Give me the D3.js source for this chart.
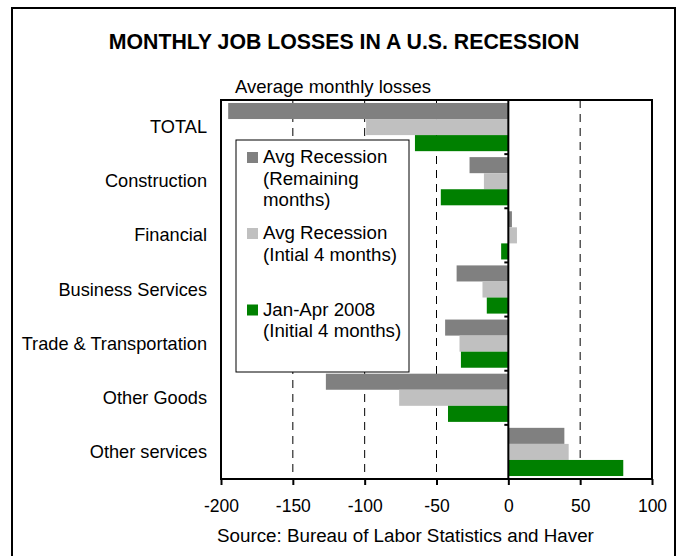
<!DOCTYPE html>
<html>
<head>
<meta charset="utf-8">
<script src="https://cdn.jsdelivr.net/npm/d3@7"></script>
<style>
  body { margin: 0; background: #fff; }
  svg text { font-family: "Liberation Sans", Arial, sans-serif; fill: #000; }
</style>
</head>
<body>
<script>
// data
const categories = ["TOTAL", "Construction", "Financial", "Business Services",
	"Trade & Transportation", "Other Goods", "Other services"];
const seriesNames = ["remaining", "initial", "y2008"];
const remaining = [-195, -27, 2.5, -36, -44, -127, 39];
const initial = [-99, -17, 6, -18, -34, -76, 42];
const y2008 = [-65, -47, -5, -15, -33, -42, 80];
const xTicks = [-200, -150, -100, -50, 0, 50, 100];
const gridValues = [-150, -100, -50, 50];
const colors = { remaining: "#808080", initial: "#c0c0c0", y2008: "#008000" };
const legendItems = [
	{ key: "remaining", lines: ["Avg Recession", "(Remaining", "months)"] },
	{ key: "initial", lines: ["Avg Recession", "(Intial 4 months)"] },
	{ key: "y2008", lines: ["Jan-Apr 2008", "(Initial 4 months)"] }
];

const W = 681, H = 556;
const plot = { left: 221, right: 652, top: 100, bottom: 479 };

const svg = d3.select("body").append("svg")
	.attr("width", W)
	.attr("height", H);

// outer frame
svg.append("rect")
	.attr("x", 12).attr("y", 8)
	.attr("width", 663).attr("height", 560)
	.attr("fill", "none")
	.attr("stroke", "#000")
	.attr("stroke-width", 2);

svg.append("text")
	.attr("x", 344).attr("y", 49)
	.attr("text-anchor", "middle")
	.style("font-size", "21.3px")
	.style("font-weight", "bold")
	.text("MONTHLY JOB LOSSES IN A U.S. RECESSION");

svg.append("text")
	.attr("x", 235).attr("y", 92.5)
	.style("font-size", "18.5px")
	.text("Average monthly losses");

const x = d3.scaleLinear()
	.domain([-200, 100])
	.range([plot.left, plot.right]);

const y = d3.scaleBand()
	.domain(categories)
	.range([plot.top, plot.bottom])
	.paddingInner(0.11)
	.paddingOuter(0.055);

const ySub = d3.scaleBand()
	.domain(seriesNames)
	.range([0, y.bandwidth()]);

// dashed gridlines
svg.append("g")
	.selectAll("line")
	.data(gridValues)
	.join("line")
	.attr("x1", d => x(d)).attr("x2", d => x(d))
	.attr("y1", plot.top).attr("y2", plot.bottom)
	.attr("stroke", "#000")
	.attr("stroke-width", 1)
	.attr("stroke-dasharray", "8,6");

// bars
const rows = categories.map((c, i) => ({
	cat: c,
	values: { remaining: remaining[i], initial: initial[i], y2008: y2008[i] }
}));

const groups = svg.append("g")
	.selectAll("g")
	.data(rows)
	.join("g")
	.attr("transform", d => `translate(0,${y(d.cat)})`);

groups.selectAll("rect")
	.data(d => seriesNames.map(k => ({ key: k, value: d.values[k] })))
	.join("rect")
	.attr("x", d => x(Math.min(0, d.value)))
	.attr("width", d => Math.abs(x(d.value) - x(0)))
	.attr("y", d => ySub(d.key))
	.attr("height", ySub.bandwidth())
	.attr("fill", d => colors[d.key]);

// zero line with category ticks
svg.append("line")
	.attr("x1", x(0)).attr("x2", x(0))
	.attr("y1", plot.top).attr("y2", plot.bottom)
	.attr("stroke", "#000")
	.attr("stroke-width", 2);

const step = (plot.bottom - plot.top) / categories.length;
svg.append("g")
	.selectAll("line")
	.data(d3.range(1, categories.length))
	.join("line")
	.attr("x1", x(0) - 4).attr("x2", x(0))
	.attr("y1", d => plot.top + d * step)
	.attr("y2", d => plot.top + d * step)
	.attr("stroke", "#000")
	.attr("stroke-width", 2);

// plot frame
svg.append("rect")
	.attr("x", plot.left).attr("y", plot.top)
	.attr("width", plot.right - plot.left)
	.attr("height", plot.bottom - plot.top)
	.attr("fill", "none")
	.attr("stroke", "#000")
	.attr("stroke-width", 2);

// x axis
const xAxis = svg.append("g")
	.attr("transform", `translate(0,${plot.bottom})`)
	.call(d3.axisBottom(x).tickValues(xTicks).tickSize(6).tickPadding(0).tickFormat(d => String(d)));
xAxis.select(".domain").remove();
xAxis.selectAll("line").attr("stroke", "#000").attr("stroke-width", 2);
xAxis.selectAll("text")
	.attr("dy", null)
	.attr("y", 33)
	.style("font-size", "17.5px")
	.style("font-family", "'Liberation Sans', Arial, sans-serif");

// category labels
svg.append("g")
	.selectAll("text")
	.data(categories)
	.join("text")
	.attr("x", 207)
	.attr("y", d => y(d) + y.bandwidth() / 2 + 6)
	.attr("text-anchor", "end")
	.style("font-size", "18.2px")
	.text(d => d);

// legend
const legend = svg.append("g");
legend.append("rect")
	.attr("x", 236).attr("y", 140)
	.attr("width", 173).attr("height", 232)
	.attr("fill", "#fff")
	.attr("stroke", "#000")
	.attr("stroke-width", 1);

const legendTop = [163, 239, 315.5];
legendItems.forEach((item, i) => {
	legend.append("rect")
		.attr("x", 247).attr("y", legendTop[i] - 11)
		.attr("width", 11).attr("height", 11)
		.attr("fill", colors[item.key]);
	item.lines.forEach((line, j) => {
		legend.append("text")
			.attr("x", 263)
			.attr("y", legendTop[i] + j * 21.7)
			.style("font-size", "18.7px")
			.text(line);
	});
});

svg.append("text")
	.attr("x", 217).attr("y", 541.5)
	.style("font-size", "18.8px")
	.text("Source: Bureau of Labor Statistics and Haver");
</script>
</body>
</html>
